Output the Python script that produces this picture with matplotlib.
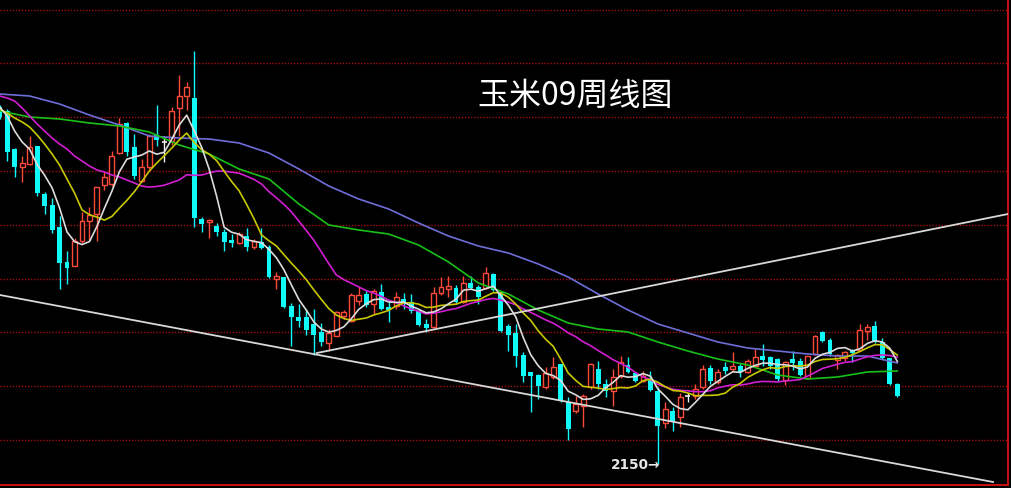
import matplotlib
matplotlib.use("Agg")
import matplotlib.pyplot as plt
import numpy as np
import pandas as pd

# ---------------- data (weekly candles) ----------------
opens = [2507, 2503, 2465, 2447, 2450, 2468, 2420, 2409, 2387, 2352,
         2348, 2373, 2393, 2400, 2429, 2430, 2461, 2491, 2467, 2433,
         2447, 2479, 2472, 2473, 2506, 2518, 2516, 2395, 2392, 2388,
         2382, 2374, 2371, 2378, 2367, 2372, 2367, 2335, 2337, 2308,
         2297, 2297, 2290, 2282, 2271, 2278, 2298, 2293, 2313, 2320,
         2310, 2322, 2307, 2308, 2315, 2312, 2303, 2290, 2287, 2321,
         2325, 2326, 2312, 2331, 2327, 2326, 2340, 2322, 2288, 2281,
         2259, 2242, 2239, 2227, 2237, 2250, 2212, 2203, 2208, 2227,
         2245, 2230, 2223, 2238, 2249, 2241, 2233, 2235, 2223, 2191,
         2203, 2197, 2218, 2218, 2227, 2246, 2232, 2247, 2245, 2248,
         2242, 2248, 2258, 2257, 2255, 2234, 2255, 2253, 2236, 2260,
         2282, 2274, 2254, 2256, 2263, 2264, 2283, 2288, 2272, 2256,
         2230]
highs = [2509, 2505, 2466, 2458, 2478, 2468, 2422, 2416, 2398, 2363,
         2376, 2402, 2407, 2427, 2442, 2463, 2496, 2492, 2480, 2455,
         2480, 2509, 2478, 2507, 2539, 2532, 2563, 2397, 2395, 2391,
         2385, 2380, 2382, 2386, 2375, 2386, 2369, 2342, 2337, 2311,
         2310, 2305, 2305, 2291, 2285, 2303, 2304, 2321, 2327, 2323,
         2325, 2330, 2312, 2322, 2321, 2320, 2305, 2295, 2327, 2337,
         2338, 2329, 2338, 2338, 2329, 2347, 2341, 2322, 2290, 2290,
         2262, 2242, 2240, 2247, 2257, 2250, 2217, 2218, 2220, 2251,
         2253, 2235, 2245, 2258, 2257, 2242, 2243, 2243, 2227, 2212,
         2207, 2221, 2221, 2230, 2249, 2249, 2245, 2252, 2262, 2250,
         2255, 2265, 2270, 2258, 2256, 2253, 2263, 2256, 2258, 2279,
         2283, 2276, 2260, 2263, 2265, 2290, 2290, 2293, 2276, 2256,
         2231]
lows = [2495, 2453, 2437, 2432, 2449, 2418, 2400, 2381, 2325, 2330,
        2348, 2371, 2373, 2373, 2424, 2428, 2460, 2458, 2435, 2432,
        2445, 2468, 2452, 2469, 2478, 2504, 2387, 2382, 2376, 2378,
        2363, 2367, 2370, 2363, 2365, 2365, 2336, 2325, 2306, 2268,
        2287, 2279, 2259, 2268, 2263, 2278, 2295, 2292, 2309, 2307,
        2300, 2304, 2292, 2305, 2305, 2301, 2288, 2282, 2286, 2319,
        2317, 2310, 2311, 2325, 2310, 2325, 2323, 2282, 2263, 2247,
        2232, 2202, 2215, 2225, 2235, 2212, 2174, 2201, 2187, 2225,
        2225, 2217, 2208, 2236, 2241, 2232, 2232, 2223, 2150, 2186,
        2183, 2187, 2212, 2215, 2225, 2230, 2230, 2240, 2243, 2237,
        2241, 2247, 2248, 2245, 2233, 2229, 2244, 2238, 2235, 2259,
        2272, 2258, 2245, 2253, 2252, 2263, 2274, 2271, 2255, 2229,
        2217]
closes = [2497, 2462, 2447, 2451, 2467, 2421, 2408, 2384, 2351, 2346,
          2373, 2393, 2399, 2427, 2437, 2458, 2490, 2462, 2438, 2447,
          2478, 2474, 2472, 2503, 2518, 2527, 2396, 2390, 2394, 2382,
          2372, 2371, 2380, 2367, 2373, 2366, 2337, 2338, 2307, 2297,
          2293, 2284, 2279, 2272, 2281, 2302, 2302, 2319, 2319, 2309,
          2323, 2305, 2304, 2317, 2311, 2303, 2289, 2286, 2321, 2327,
          2328, 2312, 2331, 2326, 2317, 2341, 2324, 2283, 2279, 2258,
          2238, 2238, 2228, 2241, 2247, 2213, 2185, 2210, 2218, 2250,
          2230, 2223, 2237, 2252, 2242, 2233, 2238, 2224, 2188, 2205,
          2193, 2217, 2218, 2225, 2245, 2233, 2242, 2243, 2248, 2242,
          2253, 2257, 2254, 2248, 2235, 2252, 2251, 2239, 2258, 2278,
          2273, 2260, 2259, 2262, 2261, 2284, 2287, 2272, 2256, 2230,
          2218]

ma5_head = [2507, 2498, 2483, 2472]
ma10_head = [2505, 2501, 2496, 2492, 2487, 2479, 2470, 2460, 2449, 2435, 2421]
ma20_head = [2518, 2516, 2513, 2506, 2498, 2490, 2483, 2476, 2470, 2465,
             2458, 2453, 2448, 2444, 2442, 2439, 2437, 2434, 2431]
slow_ma_idx = list(range(0, 121, 4))
ma40_vals = [2503, 2497, 2495, 2491, 2488, 2482, 2469, 2460, 2445, 2435,
             2410, 2389, 2384, 2380, 2369, 2352, 2331, 2320, 2304, 2291,
             2285, 2282, 2272, 2263, 2255, 2249, 2239, 2235, 2237, 2242,
             2243]
ma60_vals = [2520, 2518, 2510, 2499, 2489, 2478, 2476, 2475, 2471, 2461,
             2445, 2428, 2415, 2405, 2391, 2378, 2368, 2361, 2350, 2337,
             2320, 2304, 2290, 2281, 2272, 2266, 2263, 2260, 2258, 2258,
             2251]

# trend lines (bar index, price)
trend1_x = [0.04, 132.8]
trend1_y = [2319, 2132]
trend2_x = [42.4, 134.8]
trend2_y = [2261, 2400]

grid_levels = [2174.0, 2227.8, 2281.6, 2335.4, 2389.2, 2443.0, 2496.8, 2550.6, 2604.4]
low_label = "2150→"
low_index = 88
title_text = "玉米09周线图"

# ---------------- drawing ----------------
plt.rcParams['font.family'] = ['Noto Sans CJK SC', 'DejaVu Sans']

W, H = 1011, 489
fig = plt.figure(figsize=(W / 100, H / 100), dpi=100, facecolor='black')
ax = fig.add_axes([0, 3 / H, 1008 / W, 486 / H], facecolor='black')

o = np.array(opens, float)
h = np.array(highs, float)
l = np.array(lows, float)
c = np.array(closes, float)
x = np.arange(len(o))

RED = '#ff4a3a'
CYAN = '#10fafa'
WHITE = '#f0f0f0'
bw = 0.66

for level in grid_levels:
    ax.axhline(level, color='#a01010', lw=1.0, ls=(0, (1, 1.2)), zorder=1)

for i in range(len(o)):
    top = max(o[i], c[i])
    bot = min(o[i], c[i])
    if c[i] > o[i]:
        ax.vlines(x[i], top, h[i], color=RED, lw=1.0, zorder=2)
        ax.vlines(x[i], l[i], bot, color=RED, lw=1.0, zorder=2)
        ax.bar(x[i], top - bot, bottom=bot, width=bw, facecolor='black',
               edgecolor=RED, lw=1.0, zorder=3)
    elif c[i] < o[i]:
        ax.vlines(x[i], l[i], h[i], color=CYAN, lw=1.0, zorder=2)
        ax.bar(x[i], max(top - bot, 1.2), bottom=bot, width=bw, color=CYAN,
               lw=0, zorder=3)
    else:
        ax.vlines(x[i], l[i], h[i], color=WHITE, lw=1.0, zorder=2)
        ax.hlines(c[i], x[i] - bw / 2, x[i] + bw / 2, color=WHITE, lw=1.2, zorder=3)

cs = pd.Series(c)
ma5 = cs.rolling(5).mean().to_numpy()
ma5[:len(ma5_head)] = ma5_head
ma10 = cs.rolling(10).mean().to_numpy()
ma10[:len(ma10_head)] = ma10_head
ma20 = cs.rolling(20).mean().to_numpy()
ma20[:len(ma20_head)] = ma20_head

ax.plot(slow_ma_idx, ma60_vals, color='#6e6ed8', lw=1.2, zorder=4)
ax.plot(slow_ma_idx, ma40_vals, color='#18c018', lw=1.2, zorder=4)
ax.plot(x, ma20, color='#d21ed2', lw=1.2, zorder=4)
ax.plot(x, ma10, color='#c8c800', lw=1.2, zorder=4)
ax.plot(x, ma5, color='#dcdcdc', lw=1.2, zorder=5)

ax.plot(trend1_x, trend1_y, color='#d8d8d8', lw=1.3, zorder=5)
ax.plot(trend2_x, trend2_y, color='#d8d8d8', lw=1.3, zorder=5)

ax.text(low_index + 0.3, l[low_index], low_label, ha='right', va='center',
        fontsize=9.8, color='#e8e8e8', fontweight='bold',
        family=['DejaVu Sans'], zorder=6)

fig.text(575 / W, 1 - 96 / H, title_text, ha='center', va='center',
         fontsize=23, color='white', family=['Noto Sans CJK SC', 'DejaVu Sans'])

ax.set_xlim(0.04, 134.8)
ax.set_ylim(2129, 2615)
for side in ('top', 'left'):
    ax.spines[side].set_visible(False)
for side in ('right', 'bottom'):
    ax.spines[side].set_color('#c01010')
    ax.spines[side].set_linewidth(1.5)
ax.set_xticks([])
ax.set_yticks([])

fig.savefig('out.png', dpi=100, facecolor='black')
